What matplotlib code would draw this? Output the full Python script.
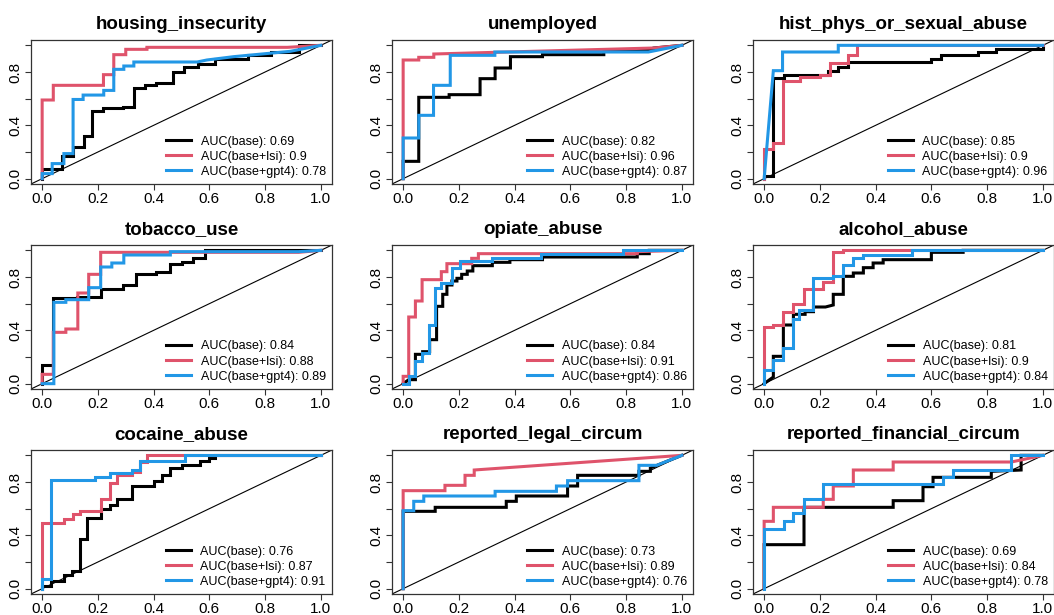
import matplotlib
matplotlib.use("Agg")
import matplotlib.pyplot as plt

plt.rcParams['font.family'] = ['Liberation Sans', 'DejaVu Sans']

titles = ["housing_insecurity", "unemployed", "hist_phys_or_sexual_abuse",
          "tobacco_use", "opiate_abuse", "alcohol_abuse",
          "cocaine_abuse", "reported_legal_circum", "reported_financial_circum"]

auc_base = [0.69, 0.82, 0.85, 0.84, 0.84, 0.81, 0.76, 0.73, 0.69]
auc_lsi = [0.9, 0.96, 0.9, 0.88, 0.91, 0.9, 0.87, 0.89, 0.84]
auc_gpt4 = [0.78, 0.87, 0.96, 0.89, 0.86, 0.84, 0.91, 0.76, 0.78]

# ROC vertices (1 - specificity, sensitivity)
housing_base = [(0, 0), (0, 0.07), (0.07, 0.07), (0.07, 0.17), (0.11, 0.17), (0.11, 0.24), (0.15, 0.24),
                (0.15, 0.32), (0.18, 0.32), (0.18, 0.51), (0.22, 0.51), (0.22, 0.53), (0.29, 0.53),
                (0.29, 0.54), (0.33, 0.54), (0.33, 0.68), (0.37, 0.68), (0.37, 0.70), (0.41, 0.70),
                (0.41, 0.72), (0.47, 0.72), (0.47, 0.80), (0.51, 0.80), (0.51, 0.84), (0.56, 0.84),
                (0.56, 0.86), (0.62, 0.86), (0.62, 0.90), (0.74, 0.90), (0.74, 0.93), (0.82, 0.93),
                (0.82, 0.95), (0.92, 0.95), (0.92, 1.0), (1, 1)]
housing_lsi = [(0, 0), (0, 0.59), (0.04, 0.59), (0.04, 0.70), (0.22, 0.70), (0.22, 0.78), (0.257, 0.78),
               (0.257, 0.93), (0.30, 0.93), (0.30, 0.97), (0.376, 0.97), (0.376, 0.985), (0.88, 0.985),
               (1, 1)]
housing_gpt4 = [(0, 0), (0, 0.038), (0.036, 0.038), (0.036, 0.113), (0.078, 0.113), (0.078, 0.188),
                (0.111, 0.188), (0.111, 0.594), (0.147, 0.594), (0.147, 0.627), (0.221, 0.627),
                (0.221, 0.662), (0.257, 0.662), (0.257, 0.82), (0.293, 0.82), (0.293, 0.845),
                (0.329, 0.845), (0.329, 0.875), (0.556, 0.875), (0.591, 0.89), (0.687, 0.915),
                (0.89, 0.955), (1, 1)]

unemp_base = [(0, 0), (0, 0.13), (0.056, 0.13), (0.056, 0.61), (0.165, 0.61), (0.165, 0.63), (0.276, 0.63),
              (0.276, 0.75), (0.33, 0.75), (0.33, 0.83), (0.385, 0.83), (0.385, 0.915), (0.5, 0.915),
              (0.5, 0.93), (0.72, 0.93), (0.72, 0.965), (0.9, 0.965), (0.9, 0.98), (1, 1)]
unemp_lsi = [(0, 0), (0, 0.89), (0.056, 0.89), (0.056, 0.91), (0.11, 0.91), (0.11, 0.935), (0.9, 0.98),
             (1, 1)]
unemp_gpt4 = [(0, 0), (0, 0.305), (0.056, 0.305), (0.056, 0.475), (0.109, 0.475), (0.109, 0.70),
              (0.169, 0.70), (0.169, 0.925), (0.329, 0.925), (0.329, 0.95), (0.88, 0.95), (1, 1)]

abuse_base = [(0, 0), (0, 0.02), (0.033, 0.02), (0.033, 0.757), (0.07, 0.757), (0.07, 0.78), (0.2, 0.78),
              (0.23, 0.78), (0.23, 0.81), (0.265, 0.81), (0.265, 0.84), (0.3, 0.84), (0.3, 0.875),
              (0.6, 0.875), (0.6, 0.9), (0.635, 0.9), (0.635, 0.925), (0.767, 0.925), (0.767, 0.95),
              (0.833, 0.95), (0.833, 0.975), (1.0, 0.975), (1.0, 1.0)]
abuse_lsi = [(0, 0), (0, 0.22), (0.03, 0.22), (0.03, 0.27), (0.066, 0.27), (0.066, 0.73), (0.13, 0.73),
             (0.13, 0.76), (0.2, 0.76), (0.2, 0.78), (0.235, 0.78), (0.235, 0.87), (0.3, 0.87),
             (0.3, 0.925), (0.332, 0.925), (0.332, 1.0), (1, 1)]
abuse_gpt4 = [(0, 0), (0.033, 0.81), (0.066, 0.81), (0.066, 0.95), (0.266, 0.95), (0.266, 1.0), (1, 1)]

tobacco_base = [(0, 0), (0, 0.14), (0.04, 0.14), (0.04, 0.64), (0.125, 0.64), (0.125, 0.65), (0.21, 0.65),
                (0.21, 0.71), (0.29, 0.71), (0.29, 0.74), (0.335, 0.74), (0.335, 0.825), (0.41, 0.825),
                (0.41, 0.84), (0.46, 0.84), (0.46, 0.895), (0.5, 0.895), (0.5, 0.91), (0.54, 0.91),
                (0.54, 0.94), (0.585, 0.94), (0.585, 0.97), (0.585, 1.0), (1, 1)]
tobacco_lsi = [(0, 0), (0, 0.07), (0.04, 0.07), (0.04, 0.385), (0.085, 0.385), (0.085, 0.41), (0.128, 0.41),
               (0.128, 0.68), (0.167, 0.68), (0.167, 0.82), (0.21, 0.82), (0.21, 0.985), (0.92, 0.985),
               (1, 1)]
tobacco_gpt4 = [(0, 0), (0.042, 0), (0.042, 0.61), (0.085, 0.61), (0.085, 0.63), (0.167, 0.63),
                (0.167, 0.72), (0.21, 0.72), (0.21, 0.875), (0.25, 0.875), (0.25, 0.905), (0.293, 0.905),
                (0.293, 0.965), (0.46, 0.965), (0.46, 0.99), (0.92, 0.99), (1, 1)]

opiate_base = [(0, 0), (0.02, 0.03), (0.044, 0.03), (0.044, 0.22), (0.07, 0.22), (0.07, 0.24), (0.095, 0.24),
               (0.095, 0.33), (0.12, 0.33), (0.12, 0.58), (0.142, 0.58), (0.142, 0.67), (0.157, 0.67),
               (0.157, 0.74), (0.175, 0.74), (0.175, 0.77), (0.193, 0.77), (0.193, 0.79), (0.21, 0.79),
               (0.21, 0.82), (0.23, 0.82), (0.23, 0.845), (0.25, 0.845), (0.25, 0.885), (0.32, 0.885),
               (0.32, 0.91), (0.383, 0.91), (0.383, 0.93), (0.5, 0.93), (0.5, 0.95), (0.84, 0.95),
               (0.84, 0.975), (0.883, 0.975), (0.883, 1.0), (1, 1)]
opiate_lsi = [(0, 0), (0, 0.055), (0.02, 0.055), (0.02, 0.5), (0.044, 0.5), (0.044, 0.62), (0.068, 0.62),
              (0.068, 0.78), (0.137, 0.78), (0.137, 0.84), (0.157, 0.84), (0.157, 0.9), (0.246, 0.9),
              (0.246, 0.94), (0.27, 0.94), (0.27, 0.975), (0.84, 0.975), (0.84, 0.99), (1, 1)]
opiate_gpt4 = [(0, 0), (0.02, 0), (0.02, 0.055), (0.044, 0.055), (0.044, 0.17), (0.068, 0.17), (0.068, 0.23),
               (0.092, 0.23), (0.092, 0.44), (0.116, 0.44), (0.116, 0.72), (0.137, 0.72), (0.137, 0.755),
               (0.175, 0.755), (0.175, 0.87), (0.205, 0.87), (0.205, 0.92), (0.318, 0.92), (0.318, 0.945),
               (0.496, 0.945), (0.496, 0.97), (0.79, 0.97), (0.79, 1.0), (1, 1)]

alcohol_base = [(0, 0), (0.033, 0.05), (0.033, 0.205), (0.069, 0.205), (0.069, 0.44), (0.105, 0.44),
                (0.105, 0.52), (0.147, 0.52), (0.147, 0.54), (0.177, 0.54), (0.177, 0.575), (0.22, 0.575),
                (0.248, 0.59), (0.248, 0.67), (0.284, 0.67), (0.284, 0.805), (0.32, 0.805), (0.32, 0.83),
                (0.356, 0.83), (0.356, 0.87), (0.391, 0.87), (0.391, 0.905), (0.427, 0.905), (0.427, 0.93),
                (0.6, 0.93), (0.6, 0.985), (0.714, 0.985), (0.714, 1.0), (1, 1)]
alcohol_lsi = [(0, 0), (0, 0.425), (0.033, 0.425), (0.033, 0.44), (0.069, 0.44), (0.069, 0.54), (0.105, 0.54),
               (0.105, 0.6), (0.142, 0.6), (0.142, 0.71), (0.21, 0.71), (0.21, 0.765), (0.248, 0.765),
               (0.248, 0.985), (0.284, 0.985), (0.284, 1.0), (1, 1)]
alcohol_gpt4 = [(0, 0), (0, 0.1), (0.033, 0.1), (0.033, 0.18), (0.069, 0.18), (0.069, 0.27), (0.105, 0.27),
                (0.105, 0.485), (0.125, 0.485), (0.125, 0.555), (0.177, 0.555), (0.177, 0.795),
                (0.248, 0.795), (0.248, 0.81), (0.284, 0.81), (0.284, 0.89), (0.32, 0.89), (0.32, 0.94),
                (0.356, 0.94), (0.356, 0.965), (0.53, 0.965), (0.53, 1.0), (1, 1)]

cocaine_base = [(0, 0), (0, 0.02), (0.03, 0.02), (0.03, 0.055), (0.078, 0.055), (0.078, 0.105), (0.108, 0.105),
                (0.108, 0.13), (0.137, 0.13), (0.137, 0.375), (0.16, 0.375), (0.16, 0.53), (0.21, 0.53),
                (0.21, 0.6), (0.245, 0.6), (0.245, 0.63), (0.27, 0.63), (0.27, 0.67), (0.323, 0.67),
                (0.323, 0.77), (0.4, 0.77), (0.4, 0.805), (0.43, 0.805), (0.43, 0.855), (0.46, 0.855),
                (0.46, 0.905), (0.5, 0.905), (0.5, 0.93), (0.567, 0.93), (0.567, 0.955), (0.597, 0.955),
                (0.597, 0.98), (0.62, 0.98), (0.62, 1.0), (1, 1)]
cocaine_lsi = [(0, 0), (0, 0.495), (0.078, 0.495), (0.078, 0.52), (0.11, 0.52), (0.11, 0.56), (0.137, 0.56),
               (0.137, 0.585), (0.21, 0.585), (0.21, 0.67), (0.245, 0.67), (0.245, 0.795), (0.27, 0.795),
               (0.27, 0.85), (0.323, 0.85), (0.323, 0.875), (0.35, 0.875), (0.35, 0.95), (0.376, 0.95),
               (0.376, 1.0), (1, 1)]
cocaine_gpt4 = [(0, 0), (0, 0.07), (0.03, 0.07), (0.03, 0.815), (0.19, 0.815), (0.19, 0.84), (0.245, 0.84),
                (0.245, 0.865), (0.323, 0.865), (0.323, 0.89), (0.35, 0.89), (0.35, 0.955), (0.514, 0.955),
                (0.514, 1.0), (1, 1)]

legal_base = [(0, 0), (0, 0.58), (0.115, 0.58), (0.115, 0.61), (0.37, 0.61), (0.37, 0.655), (0.406, 0.655),
              (0.406, 0.695), (0.59, 0.695), (0.59, 0.77), (0.626, 0.77), (0.626, 0.85), (0.846, 0.85),
              (0.846, 0.88), (0.887, 0.88), (0.887, 0.905), (1, 1)]
legal_lsi = [(0, 0), (0, 0.735), (0.15, 0.735), (0.15, 0.775), (0.222, 0.775), (0.222, 0.85), (0.255, 0.85),
             (0.255, 0.89), (1, 1)]
legal_gpt4 = [(0, 0), (0, 0.585), (0.038, 0.585), (0.038, 0.655), (0.074, 0.655), (0.074, 0.695),
              (0.33, 0.695), (0.33, 0.73), (0.55, 0.73), (0.55, 0.77), (0.59, 0.77), (0.59, 0.81),
              (0.846, 0.81), (0.846, 0.925), (0.91, 0.925), (1, 1)]

financial_base = [(0, 0), (0, 0.33), (0.143, 0.33), (0.143, 0.61), (0.463, 0.61), (0.463, 0.66), (0.57, 0.66),
                  (0.57, 0.765), (0.606, 0.765), (0.606, 0.835), (0.815, 0.835), (0.815, 0.88),
                  (0.922, 0.89), (0.922, 1.0), (1, 1)]
financial_lsi = [(0, 0), (0, 0.505), (0.033, 0.505), (0.033, 0.61), (0.212, 0.61), (0.212, 0.67),
                 (0.248, 0.67), (0.248, 0.77), (0.32, 0.77), (0.32, 0.89), (0.463, 0.89), (0.463, 0.95),
                 (0.887, 0.95), (1, 1)]
financial_gpt4 = [(0, 0), (0, 0.45), (0.072, 0.45), (0.072, 0.505), (0.105, 0.505), (0.105, 0.565),
                  (0.143, 0.565), (0.143, 0.67), (0.212, 0.67), (0.212, 0.785), (0.642, 0.785),
                  (0.642, 0.835), (0.678, 0.835), (0.678, 0.89), (0.887, 0.89), (0.887, 1.0), (1, 1)]

curves = [
    (housing_base, housing_lsi, housing_gpt4),
    (unemp_base, unemp_lsi, unemp_gpt4),
    (abuse_base, abuse_lsi, abuse_gpt4),
    (tobacco_base, tobacco_lsi, tobacco_gpt4),
    (opiate_base, opiate_lsi, opiate_gpt4),
    (alcohol_base, alcohol_lsi, alcohol_gpt4),
    (cocaine_base, cocaine_lsi, cocaine_gpt4),
    (legal_base, legal_lsi, legal_gpt4),
    (financial_base, financial_lsi, financial_gpt4),
]

colors = ["black", "#DF536B", "#2297E6"]
names = ["base", "base+lsi", "base+gpt4"]

W, H = 1054, 615
fig = plt.figure(figsize=(W / 100, H / 100), dpi=100)
lefts = [31, 392, 753]
tops = [40, 245, 450]
pw, ph = 301, 144

for i in range(9):
    r, c = divmod(i, 3)
    ax = fig.add_axes([lefts[c] / W, (H - tops[r] - ph) / H, pw / W, ph / H])
    ax.set_xlim(-0.04, 1.04)
    ax.set_ylim(-0.04, 1.04)
    ax.axline((0, 0), (1, 1), color="black", lw=0.8)

    aucs = [auc_base[i], auc_lsi[i], auc_gpt4[i]]
    for pts, col, name, auc in zip(curves[i], colors, names, aucs):
        x, y = zip(*pts)
        ax.plot(x, y, color=col, lw=2.2, solid_joinstyle="miter",
                label=f"AUC({name}): {auc}")

    ax.set_title(titles[i], fontsize=13.5, fontweight="bold", pad=8)
    ax.set_xticks([0, 0.2, 0.4, 0.6, 0.8, 1.0])
    ax.set_xticklabels(["0.0", "0.2", "0.4", "0.6", "0.8", "1.0"])
    ax.set_yticks([0, 0.2, 0.4, 0.6, 0.8, 1.0])
    ax.set_yticklabels(["0.0", "", "0.4", "", "0.8", ""], rotation=90, va="center")
    ax.tick_params(labelsize=11, length=4, width=0.8, pad=2, color="#333333")
    for s in ax.spines.values():
        s.set_color("#333333")
        s.set_linewidth(0.9)

    ax.legend(loc="lower right", frameon=False, fontsize=9, handlelength=2.0,
              handletextpad=0.8, labelspacing=0.25, borderpad=0.2, borderaxespad=0.3)

fig.savefig("out.png", dpi=100)
